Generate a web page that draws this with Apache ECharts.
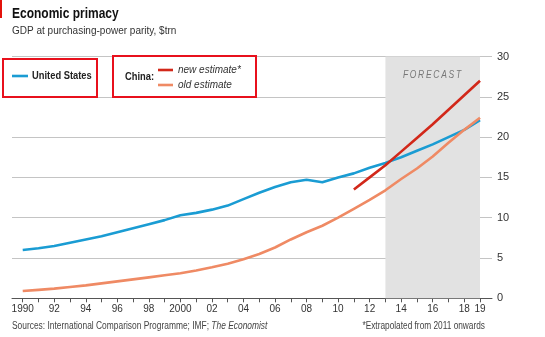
<!DOCTYPE html>
<html><head><meta charset="utf-8">
<script src="https://cdn.jsdelivr.net/npm/echarts@6/dist/echarts.min.js"></script>
<style>html,body{margin:0;padding:0;background:#fff}#c{width:545px;height:337px}</style>
</head><body><div id="c"></div>
<script>
const years = [1990,1991,1992,1993,1994,1995,1996,1997,1998,1999,2000,2001,2002,2003,2004,2005,2006,2007,2008,2009,2010,2011,2012,2013,2014,2015,2016,2017,2018,2019];
const usGdp = [6.0,6.2,6.5,6.9,7.3,7.7,8.2,8.7,9.2,9.7,10.3,10.6,11.0,11.5,12.3,13.1,13.8,14.4,14.7,14.4,15.0,15.5,16.2,16.8,17.5,18.3,19.1,20.0,20.9,22.1];
const chinaOld = [0.9,1.05,1.2,1.4,1.6,1.85,2.1,2.35,2.6,2.85,3.1,3.45,3.85,4.3,4.85,5.5,6.3,7.3,8.2,9.0,10.0,11.1,12.2,13.4,14.8,16.1,17.6,19.3,20.9,22.4];
const newYears = [2011,2012,2013,2014,2015,2016,2017,2018,2019];
const chinaNew = [13.5,15.0,16.5,18.2,19.9,21.6,23.4,25.2,27.0];
const tickYears = years;
const labelYears = [1990,1992,1994,1996,1998,2000,2002,2004,2006,2008,2010,2012,2014,2016,2018,2019];
const yTicks = [0,5,10,15,20,25,30];
const forecastRange = [2013, 2019];

const F = 'Liberation Sans';
const pairs = (xs, ys) => xs.map((x, i) => [x, ys[i]]);
const chart = echarts.init(document.getElementById('c'), null, {renderer: 'canvas'});
chart.setOption({
  animation: false,
  textStyle: {fontFamily: F},
  grid: {left: 12, right: 53, top: 56.5, bottom: 38.7, containLabel: false},
  xAxis: {
    type: 'value', min: 1989.32, max: 2019.76,
    axisLine: {show: true, lineStyle: {color: '#555', width: 1}},
    axisTick: {show: true, length: 4, inside: false, customValues: tickYears, lineStyle: {color: '#555'}},
    axisLabel: {customValues: labelYears, color: '#333', fontSize: 10, margin: 6, fontFamily: F,
      formatter: v => (v === 1990 || v === 2000) ? String(v) : String(v).slice(2)},
    splitLine: {show: false}
  },
  yAxis: {
    type: 'value', position: 'right', min: yTicks[0], max: yTicks[yTicks.length-1], interval: 5,
    axisLine: {show: false}, axisTick: {show: false},
    axisLabel: {color: '#333', fontSize: 11, margin: 5, fontFamily: F},
    splitLine: {lineStyle: {color: '#c4c4c4', width: 1}}
  },
  series: [
    {type: 'line', data: pairs(years, usGdp), symbol: 'none', lineStyle: {color: '#1a9cd3', width: 2.6}, z: 3,
      markArea: {silent: true, itemStyle: {color: '#e2e2e2'},
        data: [[{xAxis: forecastRange[0], yAxis: 0}, {xAxis: forecastRange[1], yAxis: 30}]]}},
    {type: 'line', data: pairs(years, chinaOld), symbol: 'none', lineStyle: {color: '#ef8a64', width: 2.6}, z: 3},
    {type: 'line', data: pairs(newYears, chinaNew), symbol: 'none', lineStyle: {color: '#d2281a', width: 2.6}, z: 4}
  ],
  graphic: [
    {type: 'rect', z: 100, shape: {x: 0, y: 0, width: 2, height: 18}, style: {fill: '#e3120b'}},
    {type: 'text', z: 100, x: 12, y: 14, scaleX: 0.8, style: {text: 'Economic primacy', font: 'bold 15px ' + F, fill: '#111', verticalAlign: 'middle'}},
    {type: 'text', z: 100, x: 12, y: 31, style: {text: 'GDP at purchasing-power parity, $trn', font: '10px ' + F, fill: '#333', verticalAlign: 'middle'}},
    {type: 'line', z: 100, shape: {x1: 12, y1: 76, x2: 28, y2: 76}, style: {stroke: '#1a9cd3', lineWidth: 2.6}},
    {type: 'text', z: 100, x: 32, y: 76, scaleX: 0.85, style: {text: 'United States', font: 'bold 11px ' + F, fill: '#222', verticalAlign: 'middle'}},
    {type: 'text', z: 100, x: 125, y: 77, scaleX: 0.85, style: {text: 'China:', font: 'bold 11px ' + F, fill: '#222', verticalAlign: 'middle'}},
    {type: 'line', z: 100, shape: {x1: 158, y1: 70, x2: 173, y2: 70}, style: {stroke: '#d2281a', lineWidth: 2.6}},
    {type: 'line', z: 100, shape: {x1: 158, y1: 85, x2: 173, y2: 85}, style: {stroke: '#ef8a64', lineWidth: 2.6}},
    {type: 'text', z: 100, x: 178, y: 70, style: {text: 'new estimate*', font: 'italic 10px ' + F, fill: '#333', verticalAlign: 'middle'}},
    {type: 'text', z: 100, x: 178, y: 85, style: {text: 'old estimate', font: 'italic 10px ' + F, fill: '#333', verticalAlign: 'middle'}},
    {type: 'rect', z: 100, shape: {x: 3, y: 59, width: 94, height: 38}, style: {fill: 'none', stroke: '#e8101c', lineWidth: 2}},
    {type: 'rect', z: 100, shape: {x: 113, y: 56, width: 143, height: 41}, style: {fill: 'none', stroke: '#e8101c', lineWidth: 2}},
    {type: 'text', z: 100, x: 432, y: 75, scaleX: 0.85, style: {text: 'F\u2009O\u2009R\u2009E\u2009C\u2009A\u2009S\u2009T', font: 'italic 10px ' + F, fill: '#777', align: 'center', verticalAlign: 'middle'}},
    {type: 'text', z: 100, x: 12, y: 326, scaleX: 0.84, style: {
      text: '{n|Sources: International Comparison Programme; IMF; }{i|The Economist}',
      rich: {n: {font: '10px ' + F, fill: '#444'}, i: {font: 'italic 10px ' + F, fill: '#444'}}, verticalAlign: 'middle'}},
    {type: 'text', z: 100, x: 485, y: 326, scaleX: 0.83, style: {text: '*Extrapolated from 2011 onwards', font: '10px ' + F, fill: '#444', align: 'right', verticalAlign: 'middle'}}
  ]
});
</script></body></html>
